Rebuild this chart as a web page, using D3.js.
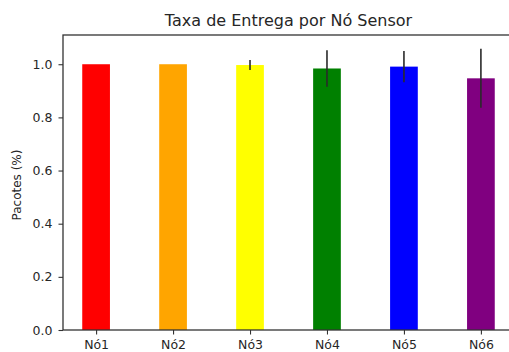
<!DOCTYPE html>
<html>
<head>
<meta charset="utf-8">
<script src="https://cdn.jsdelivr.net/npm/d3@7"></script>
<style>
  html, body { margin: 0; padding: 0; background: #fff; }
  svg { display: block; }
  text { font-family: "DejaVu Sans", sans-serif; fill: #262626; }
</style>
</head>
<body>
<svg id="chart" width="509" height="352"></svg>
<script>
// Delivery rate per sensor node, with standard deviation
const nodes = ["Nó1", "Nó2", "Nó3", "Nó4", "Nó5", "Nó6"];
const rates = [1.0, 1.0, 0.997, 0.984, 0.991, 0.947];
const errors = [0.0, 0.0, 0.019, 0.069, 0.059, 0.111];
const colors = ["red", "orange", "yellow", "green", "blue", "purple"];
const yTicks = [0.0, 0.2, 0.4, 0.6, 0.8, 1.0];

const svg = d3.select("#chart");
const plotLeft = 63, plotTop = 35, plotBottom = 330, plotRight = 514;

// Linear x scale: bar centres at integer positions
const barW = 0.36;
const x = d3.scaleLinear().domain([-0.43, 5.43]).range([plotLeft, plotRight]);
const y = d3.scaleLinear().domain([0, 1.11]).range([plotBottom, plotTop]);

// Bars
svg.append("g").selectAll("rect").data(nodes).join("rect")
  .attr("x", (d, i) => x(i - barW / 2))
  .attr("width", (d, i) => x(i + barW / 2) - x(i - barW / 2))
  .attr("y", (d, i) => y(rates[i]))
  .attr("height", (d, i) => y(0) - y(rates[i]))
  .attr("fill", (d, i) => colors[i]);

// Error bars
svg.append("g").selectAll("line").data(nodes).join("line")
  .attr("x1", (d, i) => x(i)).attr("x2", (d, i) => x(i))
  .attr("y1", (d, i) => y(rates[i] - errors[i]))
  .attr("y2", (d, i) => y(rates[i] + errors[i]))
  .attr("stroke", "#2a2a2a").attr("stroke-width", 1.6);

// Axes
const yAxis = d3.axisLeft(y).tickValues(yTicks).tickFormat(d3.format(".1f")).tickSize(4.5).tickPadding(6);
const gy = svg.append("g").attr("transform", `translate(${plotLeft},0)`).call(yAxis);
const xAxis = d3.axisBottom(x).tickValues(d3.range(nodes.length)).tickFormat(i => nodes[i]).tickSize(4.5).tickPadding(6);
const gx = svg.append("g").attr("transform", `translate(0,${plotBottom})`).call(xAxis);
[gy, gx].forEach(g => {
  g.select(".domain").remove();
  g.selectAll(".tick line").attr("stroke", "#333").attr("stroke-width", 1.1);
  g.selectAll(".tick text").attr("font-size", 12.5).attr("fill", "#262626")
    .style("font-family", "'DejaVu Sans', sans-serif");
});

// Frame
svg.append("rect").attr("x", plotLeft).attr("y", plotTop)
  .attr("width", plotRight - plotLeft).attr("height", plotBottom - plotTop)
  .attr("fill", "none").attr("stroke", "#333").attr("stroke-width", 1.3);

// Title and y label
svg.append("text").attr("x", (plotLeft + plotRight) / 2).attr("y", 26)
  .attr("text-anchor", "middle").attr("font-size", 16).text("Taxa de Entrega por Nó Sensor");
svg.append("text").attr("transform", `translate(21,185) rotate(-90)`)
  .attr("text-anchor", "middle").attr("font-size", 12).text("Pacotes (%)");
</script>
</body>
</html>
